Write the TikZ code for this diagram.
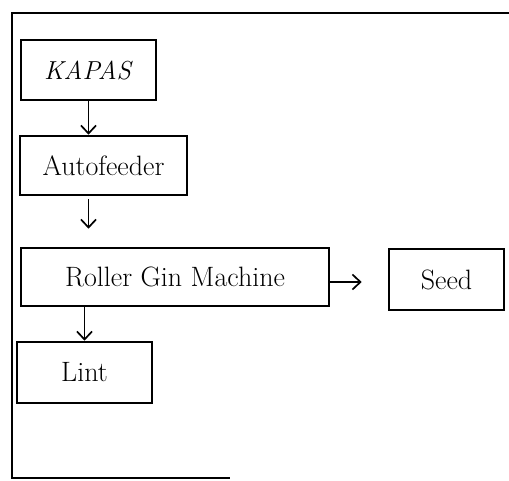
\documentclass[tikz,border=0pt]{standalone}
\usetikzlibrary{arrows.meta}

\tikzset{
    box/.style={draw, line width=2.6pt, inner sep=0pt, font=\fontsize{28}{32}\selectfont},
    flow/.style={line width=1.7pt, -{Straight Barb[length=8pt, width=15pt, line width=1.7pt]}},
}

\begin{document}
\begin{tikzpicture}[x=1pt, y=-1pt]

\useasboundingbox (0,0) rectangle (509,480);

% outer frame
\draw[line width=2.8pt] (509,13) -- (12,13) -- (12,478) -- (230,478);

% Process boxes
\node[box, minimum width=135pt, minimum height=60pt] (kapas) at (88.5,70) {\fontsize{26}{30}\selectfont\textit{KAPAS}};
\node[box, minimum width=167pt, minimum height=59pt] (feeder) at (103.5,165.5) {Autofeeder};
\node[box, minimum width=308pt, minimum height=58pt] (gin) at (175,277) {Roller Gin Machine};
\node[box, minimum width=115pt, minimum height=61pt] (seed) at (446.5,279.5) {Seed};
\node[box, minimum width=135pt, minimum height=61pt] (lint) at (84.5,372.5) {Lint};

% Arrows
\draw[flow] (kapas.south) -- (kapas.south |- feeder.north);
\draw[flow, shorten <=3pt, shorten >=18pt] (kapas.south |- feeder.south) -- (kapas.south |- gin.north);
\draw[flow, shorten >=26pt] ([yshift=-5pt]gin.east) -- ([yshift=-5pt]gin.east -| seed.west);
\draw[flow] (gin.south -| lint.north) -- (lint.north);

\end{tikzpicture}
\end{document}
